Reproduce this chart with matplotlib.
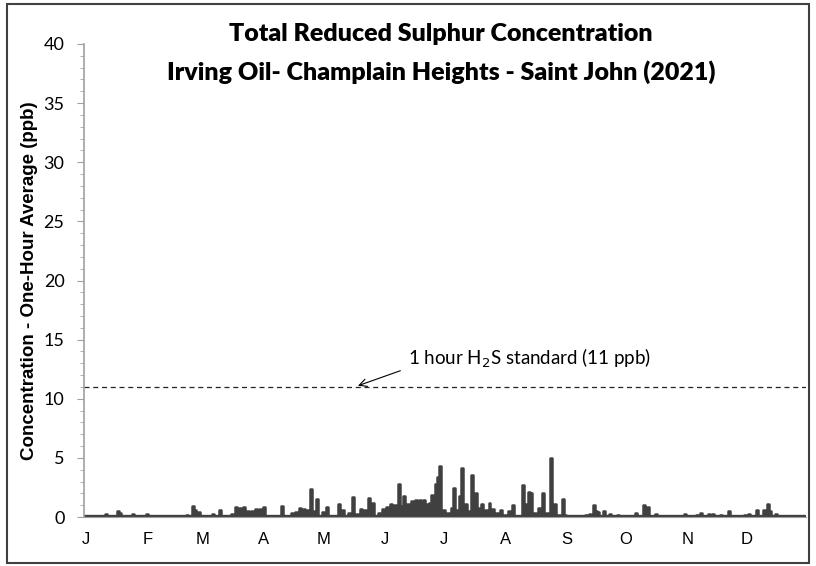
import matplotlib

matplotlib.use("Agg")
import matplotlib.pyplot as plt
import numpy as np
from matplotlib.patches import Rectangle

# daily maxima (day of year, ppb); other days sit on the baseline
SPIKE_DAYS = [
    11, 17, 18, 25, 32,
    52, 55, 56, 58, 65, 69, 75, 77, 79, 81, 83, 85, 87, 89, 91,
    100, 105, 107, 109, 111, 113, 115, 116, 118, 121, 123,
    129, 131, 134, 136, 138, 140, 142, 144, 146, 149, 151, 153, 155, 157,
    159, 160, 161, 162, 163, 164, 165, 166, 167, 168, 169, 170, 171, 172,
    173, 174, 175, 176, 177, 178, 179, 180, 182,
    184, 186, 187, 188, 190, 191, 192, 193, 194, 196, 197, 198, 199, 201,
    203, 205, 206, 207, 209, 211, 213, 215, 217, 222, 223, 224, 225, 226,
    228, 230, 232, 234, 236, 238, 240, 242, 243,
    254, 256, 258, 259, 260, 263, 266, 270, 274, 279, 283, 285, 289, 294,
    304, 310, 312, 316, 318, 322, 326, 334, 336, 340, 344, 346, 347, 350,
]
SPIKE_VALUES = [
    0.26, 0.54, 0.30, 0.26, 0.26,
    0.20, 0.97, 0.60, 0.43, 0.26, 0.63, 0.26, 0.86, 0.77, 0.86, 0.49, 0.54, 0.68, 0.71, 0.86,
    0.97, 0.34, 0.40, 0.74, 0.68, 0.57, 2.34, 0.49, 1.48, 0.40, 0.86,
    1.11, 0.57, 0.34, 1.68, 0.26, 0.68, 0.63, 1.57, 1.20, 0.34, 0.71, 0.86, 1.11, 1.00,
    2.77, 0.63, 0.90, 1.77, 0.80, 1.06, 0.90, 1.34, 1.00, 1.40, 1.10, 1.40, 1.00, 1.40,
    0.90, 1.06, 1.20, 1.86, 1.50, 2.77, 3.40, 4.34, 0.57,
    0.30, 0.77, 2.43, 0.60, 1.77, 4.14, 0.80, 1.06, 0.50, 3.54, 0.60, 2.00, 0.80, 1.11,
    0.63, 1.20, 0.60, 0.68, 0.34, 0.57, 0.20, 0.49, 1.00, 2.71, 0.50, 1.06, 2.11, 2.00,
    0.34, 0.77, 2.00, 0.34, 4.97, 1.11, 0.20, 1.54, 0.20,
    0.20, 0.26, 1.00, 0.50, 0.43, 0.49, 0.26, 0.14, 0.11, 0.34, 1.00, 0.86, 0.26, 0.11,
    0.26, 0.20, 0.34, 0.29, 0.29, 0.20, 0.49, 0.20, 0.29, 0.63, 0.63, 1.11, 0.49, 0.26,
]
BASELINE = 0.05
STANDARD = 11

MONTH_STARTS = [0, 31, 59, 90, 120, 151, 181, 212, 243, 273, 304, 334]
MONTH_LABELS = ["J", "F", "M", "A", "M", "J", "J", "A", "S", "O", "N", "D"]

days = np.arange(366)
conc = np.full(days.shape, BASELINE)
conc[SPIKE_DAYS] = SPIKE_VALUES

fig = plt.figure(figsize=(8.16, 5.66), dpi=100)
ax = fig.add_axes([84 / 816, 1 - 517 / 566, 722 / 816, 473 / 566])

ax.fill_between(days, 0, conc, step="mid", color="#404040", linewidth=0)
ax.plot(days, conc, color="#404040", linewidth=1.8, drawstyle="steps-mid")
ax.axhline(0.05, color="#404040", linewidth=2.4, zorder=1)
ax.axhline(STANDARD, color="#222222", linestyle=(0, (4, 3)), linewidth=0.9)

ax.annotate(
    r"1 hour H$_2$S standard (11 ppb)",
    xy=(138.5, 11.1),
    xytext=(164, 13.4),
    fontsize=13.5,
    family="Lato",
    va="center",
    ha="left",
    arrowprops=dict(arrowstyle="->", color="black", lw=0.8,
                    relpos=(0, 0.1), shrinkA=4, shrinkB=0),
)

ax.set_xlim(0, 365)
ax.set_ylim(0, 40)
ax.set_yticks(range(0, 41, 5))
ax.set_yticks(range(0, 41, 1), minor=True)
ax.set_xticks([d + 1 for d in MONTH_STARTS])
ax.set_xticklabels(MONTH_LABELS, family="Liberation Sans", fontsize=12)
ax.tick_params(axis="x", length=0, pad=11)
ax.tick_params(axis="y", which="major", length=5, color="#a0a0a0", pad=9, labelsize=13)
ax.tick_params(axis="y", which="minor", length=3, color="#a0a0a0")
for lab in ax.get_yticklabels():
    lab.set_family("Lato")

for side in ("top", "right"):
    ax.spines[side].set_visible(False)
ax.spines["left"].set_color("#a0a0a0")
ax.spines["bottom"].set_color("#a0a0a0")
ax.spines["left"].set_linewidth(1.2)

ax.set_ylabel(
    "Concentration - One-Hour Average (ppb)",
    family="Liberation Sans",
    fontweight="bold",
    fontsize=13.5,
    labelpad=4,
)

fig.text(441 / 816, 1 - 34 / 566, "Total Reduced Sulphur Concentration",
         ha="center", va="center", family="Lato", fontweight="heavy", fontsize=18)
fig.text(441 / 816, 1 - 72 / 566, "Irving Oil- Champlain Heights - Saint John (2021)",
         ha="center", va="center", family="Lato", fontweight="heavy", fontsize=18)

fig.patches.append(Rectangle((7 / 816, 3 / 566), 802 / 816, 559 / 566,
                             transform=fig.transFigure, fill=False,
                             edgecolor="#404040", linewidth=1.5))

fig.savefig("out.png", dpi=100)
